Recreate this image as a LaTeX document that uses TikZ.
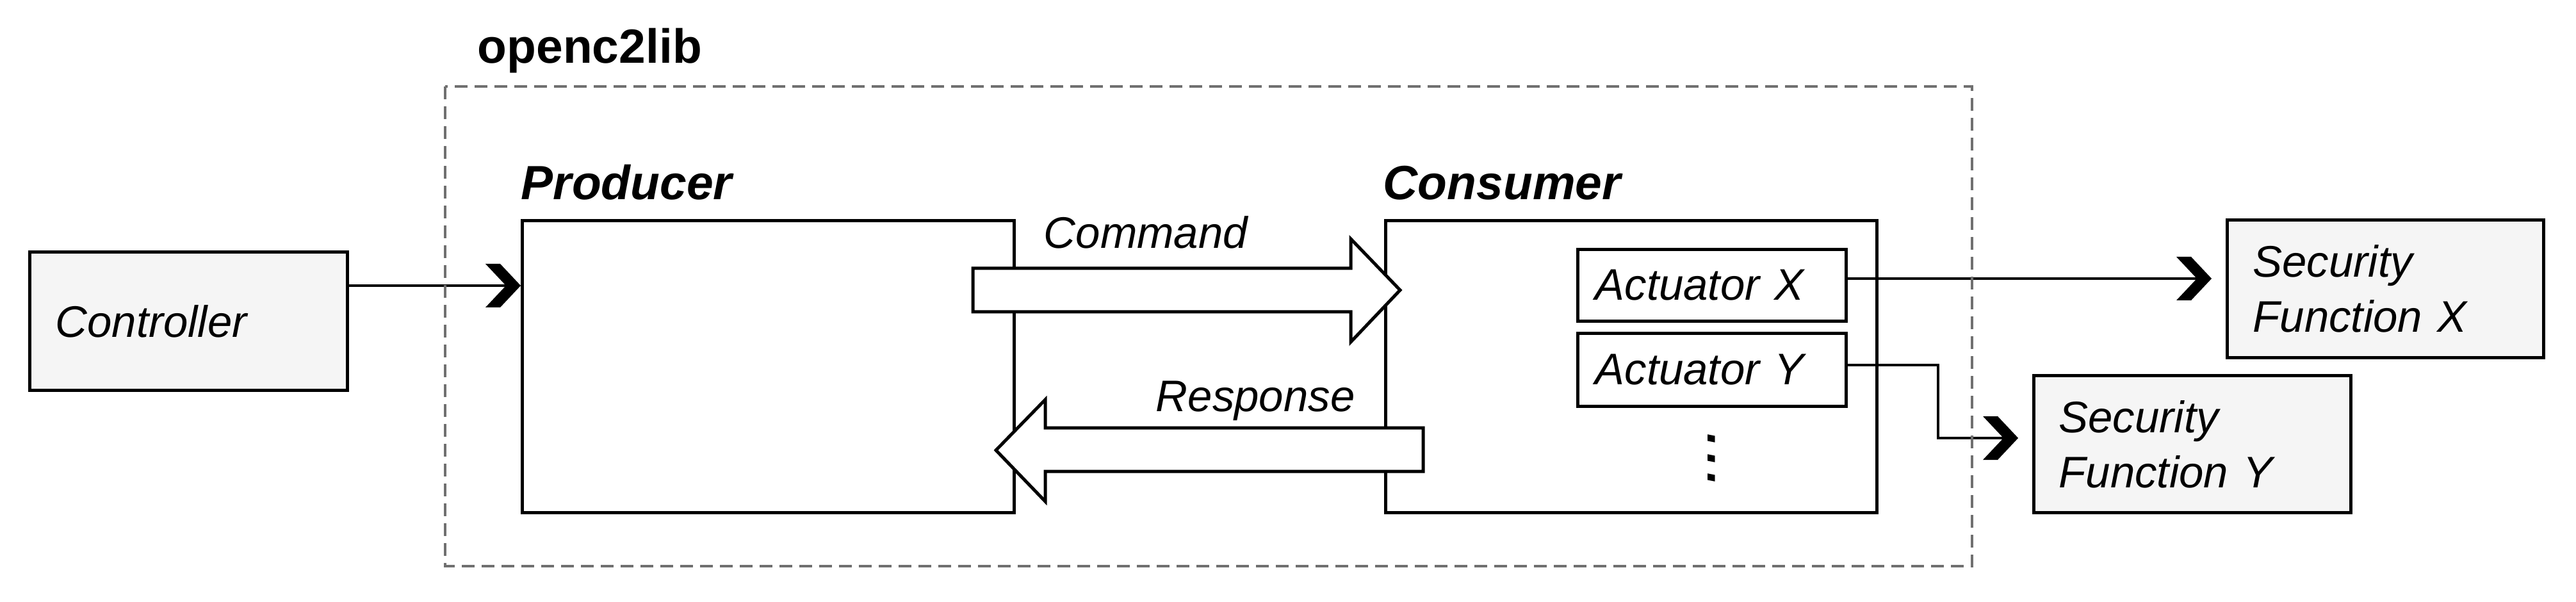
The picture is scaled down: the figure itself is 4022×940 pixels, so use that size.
\documentclass[tikz,border=0pt]{standalone}
\usepackage{fontspec}
\setmainfont{Liberation Sans}
\usetikzlibrary{calc}
\definecolor{boxgray}{HTML}{F5F5F5}
\definecolor{dashgray}{HTML}{707070}
\newcommand\regfont{\itshape\fontsize{17.25pt}{21.5pt}\selectfont}
\newcommand\boldlbl{\bfseries\fontsize{18.75pt}{22pt}\selectfont}
\pgfdeclarearrow{
  name = Chev,
  setup code = {
    \pgfarrowssettipend{0pt}
    \pgfarrowssetlineend{-5pt}
    \pgfarrowssetvisualbackend{-13.75pt}
    \pgfarrowssetbackend{-13.75pt}
    \pgfarrowsupperhullpoint{-13.75pt}{8.5pt}
    \pgfarrowsupperhullpoint{0pt}{0pt}
  },
  drawing code = {
    \pgfsetfillcolor{black}
    \pgfpathmoveto{\pgfqpoint{0pt}{0pt}}
    \pgfpathlineto{\pgfqpoint{-8pt}{8.5pt}}
    \pgfpathlineto{\pgfqpoint{-13.75pt}{8.5pt}}
    \pgfpathlineto{\pgfqpoint{-5.75pt}{0pt}}
    \pgfpathlineto{\pgfqpoint{-13.75pt}{-8.5pt}}
    \pgfpathlineto{\pgfqpoint{-8pt}{-8.5pt}}
    \pgfpathclose
    \pgfusepathqfill
  }
}
\begin{document}
\begin{tikzpicture}[x=0.25pt,y=-0.25pt,
  box/.style={draw=black, line width=1.25pt, anchor=north west, inner ysep=0pt, align=left, font=\regfont},
  graybox/.style={box, fill=boxgray},
  lbl/.style={anchor=base west, inner sep=0pt},
  edge/.style={line width=1pt, -Chev},
  fat/.style={draw=black, fill=white, line width=1.25pt, line join=miter},
  container/.style={draw=dashgray, line width=1pt, dash pattern=on 5pt off 2.75pt}
]
\useasboundingbox (0,0) rectangle (4022,940);

% boxes
\node[graybox, minimum width=124pt, minimum height=54pt, text width=104pt, inner xsep=10pt] (ctrl) at (44,391) {Controller};
\node[box, minimum width=192pt, minimum height=114pt] (prod) at (813,342) {};
\node[box, minimum width=191.75pt, minimum height=114pt] (cons) at (2161,342) {};
\node[box, minimum width=104.75pt, minimum height=28pt, text width=91.25pt, inner xsep=6.75pt] (actX) at (2461,387) {Actuator X};
\node[box, minimum width=104.75pt, minimum height=28.5pt, text width=91.25pt, inner xsep=6.75pt] (actY) at (2461,518) {Actuator Y};
\node[graybox, minimum width=123.5pt, minimum height=53.75pt, text width=103.5pt, inner xsep=10pt] (sfx) at (3475,341) {Security\\Function X};
\node[graybox, minimum width=123.75pt, minimum height=53.5pt, text width=104.25pt, inner xsep=9.75pt] (sfy) at (3173,584) {Security\\Function Y};

% labels
\node[lbl, font=\boldlbl] (libl) at (745,99) {openc2lib};
\node[lbl, font=\boldlbl\itshape] (prodl) at (813,312) {Producer};
\node[lbl, font=\boldlbl\itshape] (consl) at (2159,312) {Consumer};
\node[lbl, font=\regfont] (cmdl) at (1629,388) {Command};
\node[lbl, font=\regfont] (respl) at (1804,642) {Response};
\node[font=\itshape\fontsize{27pt}{30pt}\selectfont, rotate=-90, inner sep=0pt] (dots) at (2672,720) {...};

% fat arrows
\draw[fat] (1519,419) -- (2109,419) -- (2109,373) -- (2186,453) -- (2109,534) -- (2109,487) -- (1519,487) -- cycle;
\draw[fat] (2222,668) -- (1632,668) -- (1632,624) -- (1555,703) -- (1632,783) -- (1632,736) -- (2222,736) -- cycle;

% connectors
\draw[edge] (ctrl.east |- 0,446) -- (prod.west |- 0,446);
\draw[edge, shorten >=5.5pt] (actX.east |- 0,435) -- (sfx.west |- 0,435);
\coordinate (bend) at (3026,684);
\draw[edge, shorten >=5.5pt] (actY.east |- 0,570) -| (bend) -- (sfy.west |- bend);

% container
\draw[container] (695,135) rectangle (3079,884);
\end{tikzpicture}
\end{document}
